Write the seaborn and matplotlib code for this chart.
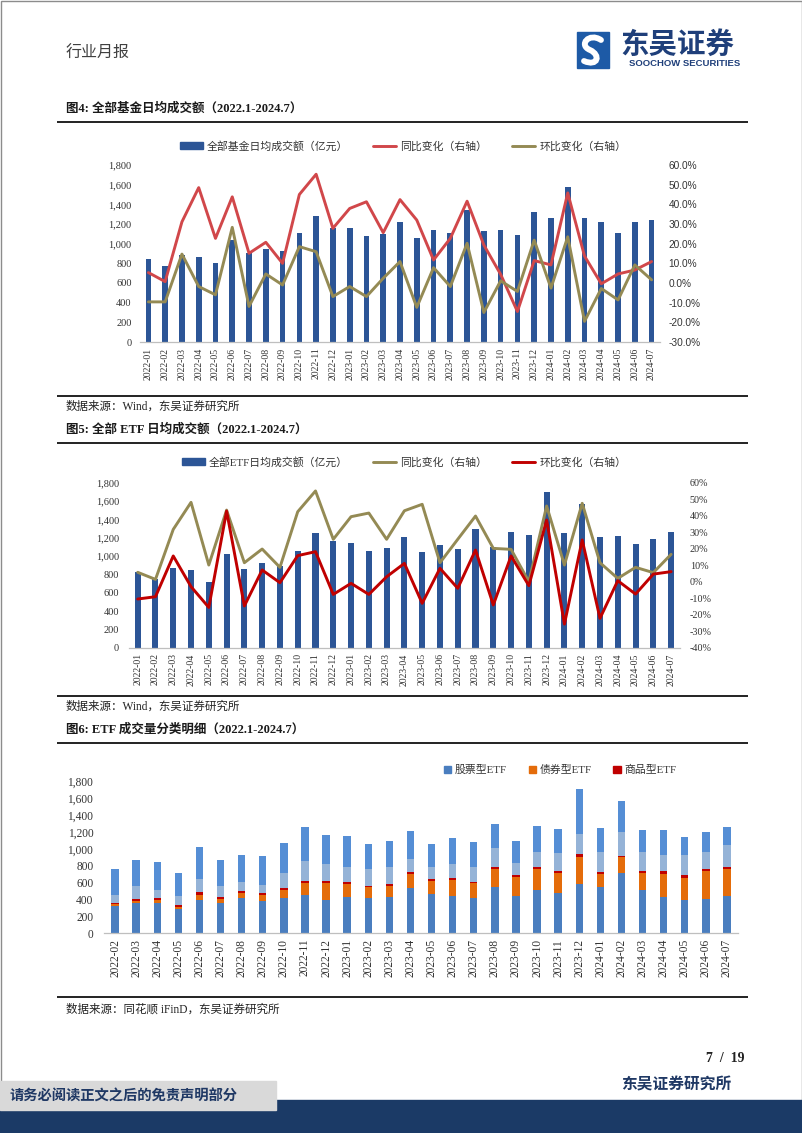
import numpy as np
import matplotlib
matplotlib.use("Agg")
import matplotlib.pyplot as plt
import seaborn as sns
from matplotlib.patches import Patch, Rectangle, PathPatch
from matplotlib.lines import Line2D
from matplotlib.path import Path
from matplotlib.ticker import FuncFormatter

# ---------------- data ----------------
months_all = ["2022-01", "2022-02", "2022-03", "2022-04", "2022-05", "2022-06", "2022-07",
              "2022-08", "2022-09", "2022-10", "2022-11", "2022-12", "2023-01", "2023-02",
              "2023-03", "2023-04", "2023-05", "2023-06", "2023-07", "2023-08", "2023-09",
              "2023-10", "2023-11", "2023-12", "2024-01", "2024-02", "2024-03", "2024-04",
              "2024-05", "2024-06", "2024-07"]

# Fig 4: all funds daily average turnover (100m CNY) and changes (%)
fund_amt = [840, 770, 880, 860, 800, 1035, 900, 945, 930, 1105, 1280, 1155, 1162, 1078, 1094,
            1222, 1060, 1141, 1108, 1341, 1131, 1138, 1084, 1317, 1266, 1574, 1256, 1219, 1108,
            1216, 1236]
fund_yoy = [5.3, 0.7, 31.1, 48.5, 22.7, 43.8, 15.1, 20.7, 10.0, 45.0, 55.3, 27.8, 37.9, 41.3,
            25.6, 42.4, 32.0, 11.7, 22.7, 41.6, 19.3, 4.4, -14.5, 11.4, 9.2, 45.8, 13.7, -0.4,
            4.6, 6.6, 10.9]
fund_mom = [-9.6, -9.6, 14.7, -1.8, -6.0, 28.3, -11.9, 4.6, -1.0, 18.5, 15.9, -6.9, -1.8, -6.9,
            2.4, 10.9, -12.4, 7.8, -1.8, 20.2, -15.0, 1.1, -4.3, 21.8, -2.6, 23.5, -19.5, -2.8,
            -8.6, 9.2, 1.6]

# Fig 5: all ETF daily average turnover and changes (%)
etf_amt = [825, 745, 865, 847, 713, 1018, 858, 920, 895, 1055, 1255, 1160, 1145, 1058, 1084,
           1211, 1044, 1124, 1080, 1291, 1100, 1265, 1229, 1702, 1247, 1570, 1211, 1218, 1131,
           1189, 1258]
etf_yoy = [5.7, 1.4, 31.7, 48.1, 10.1, 43.4, 11.5, 19.8, 8.7, 42.4, 55.0, 25.7, 39.4, 41.6,
           25.7, 43.0, 46.9, 11.5, 25.7, 39.8, 20.2, 19.6, 0.0, 45.9, 10.1, 47.5, 11.5, 2.0,
           8.7, 5.5, 16.6]
etf_mom = [-10.5, -9.1, 15.6, -3.0, -15.6, 42.8, -14.7, 7.1, -0.6, 15.8, 18.2, -7.7, -1.0, -7.7,
           3.0, 11.1, -13.1, 8.1, -4.0, 19.2, -14.1, 15.6, -2.4, 37.4, -25.7, 25.3, -22.2, 0.6,
           -7.5, 4.6, 6.1]

# Fig 6: ETF turnover breakdown (2022-02 .. 2024-07)
months_etf = months_all[1:]
etf_stock = [328, 356, 364, 285, 396, 364, 419, 388, 423, 455, 392, 435, 419, 435, 538, 463, 447,
             423, 546, 439, 518, 479, 589, 550, 720, 514, 435, 400, 407, 443]
etf_bond = [16, 32, 36, 31, 63, 47, 64, 67, 91, 138, 203, 150, 127, 127, 166, 158, 190, 174, 221,
            226, 245, 237, 321, 154, 186, 202, 265, 261, 337, 320]
etf_commodity = [20, 23, 23, 24, 28, 24, 19, 24, 20, 32, 26, 20, 20, 27, 24, 24, 16, 16, 20, 23,
                 24, 24, 27, 20, 16, 24, 36, 31, 23, 28]
etf_other_light = [91, 151, 91, 103, 154, 127, 103, 91, 178, 237, 205, 186, 193, 202, 158, 138,
                   166, 174, 226, 147, 178, 209, 238, 245, 284, 225, 198, 234, 194, 253]
etf_other_top = [304, 308, 333, 273, 384, 308, 321, 348, 360, 400, 344, 360, 301, 305, 328, 273,
                 312, 301, 288, 265, 313, 285, 538, 285, 360, 257, 296, 213, 238, 222]

# ---------------- style ----------------
sns.set_style("white")
SERIF_CJK = ['Liberation Serif', 'Noto Sans CJK SC', 'DejaVu Sans']
CJK = ['Noto Sans CJK SC', 'DejaVu Sans']
plt.rcParams['font.family'] = SERIF_CJK
plt.rcParams['axes.unicode_minus'] = False

W, H = 802, 1133
fig = plt.figure(figsize=(W / 100, H / 100), dpi=100)
fig.patch.set_facecolor('white')


def rect(l, t, r, b):
    return [l / W, 1 - b / H, (r - l) / W, (b - t) / H]


# page background elements in pixel coordinates
bg = fig.add_axes([0, 0, 1, 1])
bg.set_xlim(0, W)
bg.set_ylim(H, 0)
bg.axis('off')

bg.add_patch(Rectangle((0.5, 0.5), W - 1, H - 1, fill=False, edgecolor='#8c8c8c', lw=1))
bg.text(66, 53, "行业月报", fontsize=11.5, color='#404040', va='center', ha='left', family=CJK)

# logo
bg.add_patch(Rectangle((577, 32), 32, 36, color='#1d5aa6'))
verts = [(601, 40), (589, 32), (578, 45), (590, 50), (601, 55), (598, 67), (584, 61)]
codes = [Path.MOVETO, Path.CURVE4, Path.CURVE4, Path.CURVE4, Path.CURVE4, Path.CURVE4, Path.CURVE4]
bg.add_patch(PathPatch(Path(verts, codes), fill=False, edgecolor='white', lw=4.2, capstyle='round'))
bg.text(620, 45, "东吴证券", fontsize=20.5, color='#1f3f7a', va='center', ha='left',
        family=CJK, fontweight='bold')
bg.text(629, 64, "SOOCHOW SECURITIES", fontsize=6.8, color='#1f3f7a', va='center', ha='left',
        family=['Liberation Sans'], fontweight='bold')

# titles / separators / sources
for y in [122, 396, 443, 696, 743, 997]:
    bg.plot([57, 748], [y, y], color='#111111', lw=1.3, solid_capstyle='butt')

title_kw = dict(fontsize=9, fontweight='bold', color='#1a1a1a', va='center', ha='left')
bg.text(66, 109, "图4: 全部基金日均成交额（2022.1-2024.7）", **title_kw)
bg.text(66, 430, "图5: 全部 ETF 日均成交额（2022.1-2024.7）", **title_kw)
bg.text(66, 730, "图6: ETF 成交量分类明细（2022.1-2024.7）", **title_kw)

src_kw = dict(fontsize=8.3, color='#222222', va='center', ha='left')
bg.text(66, 407, "数据来源：Wind，东吴证券研究所", **src_kw)
bg.text(66, 707, "数据来源：Wind，东吴证券研究所", **src_kw)
bg.text(66, 1010, "数据来源：同花顺 iFinD，东吴证券研究所", **src_kw)

# footer
bg.text(745, 1058, "7  /  19", fontsize=10, fontweight='bold', color='#222222', ha='right',
        va='center', family=['Liberation Serif'])
bg.text(731, 1085, "东吴证券研究所", fontsize=11.3, fontweight='bold', color='#1f3864', ha='right',
        va='center', family=CJK)
bg.add_patch(Rectangle((0, 1100), W, 33, color='#1b3a66'))
bg.add_patch(Rectangle((0, 1081), 276, 29, color='#d9d9d9'))
bg.text(10, 1096, "请务必阅读正文之后的免责声明部分", fontsize=10.3, fontweight='bold',
        color='#1f3864', ha='left', va='center', family=CJK)

AXIS_GRAY = '#bfbfbf'
TICK_COLOR = '#333333'


def style_bottom(ax, n, tick_fs, ypad):
    for s in ['left', 'right', 'top']:
        ax.spines[s].set_visible(False)
    ax.spines['bottom'].set_color(AXIS_GRAY)
    ax.spines['bottom'].set_linewidth(0.9)
    ax.set_xticks(np.arange(-0.5, n, 1), minor=True)
    ax.tick_params(axis='x', which='major', length=0, labelsize=tick_fs, labelrotation=90,
                   pad=ypad, labelcolor=TICK_COLOR)
    ax.tick_params(axis='x', which='minor', length=3, color=AXIS_GRAY, width=0.8, direction='out')
    ax.set_xlim(-0.5, n - 0.5)
    ax.set_xlabel('')
    ax.set_ylabel('')
    ax.set_ylim(0, 1800)
    ax.set_yticks(np.arange(0, 1801, 200))
    ax.yaxis.set_major_formatter(FuncFormatter(lambda v, p: f"{v:,.0f}"))


def combo(px, cats, amt, s1, s2, c_bar, c1, c2, rlim, rfmt, rfamily, legend_labels, leg_xy,
          lpad, rpad, tick_fs):
    ax = fig.add_axes(rect(*px))
    ax.patch.set_alpha(0)
    n = len(cats)
    sns.barplot(x=cats, y=amt, color=c_bar, saturation=1, width=0.34, errorbar=None,
                linewidth=0, ax=ax)
    style_bottom(ax, n, tick_fs, 4)
    ax.tick_params(axis='y', length=0, labelsize=tick_fs + 0.5, pad=lpad, labelcolor=TICK_COLOR)

    axr = ax.twinx()
    axr.patch.set_alpha(0)
    idx = np.arange(n)
    sns.lineplot(x=idx, y=s1, color=c1, linewidth=2.1, ax=axr)
    sns.lineplot(x=idx, y=s2, color=c2, linewidth=2.1, ax=axr)
    for s in axr.spines.values():
        s.set_visible(False)
    axr.set_ylim(*rlim)
    axr.set_yticks(np.arange(rlim[0], rlim[1] + 1, 10))
    axr.yaxis.set_major_formatter(FuncFormatter(rfmt))
    axr.tick_params(axis='y', length=0, labelsize=tick_fs + 0.3, pad=rpad, labelcolor=TICK_COLOR,
                    labelfontfamily=rfamily)
    axr.set_ylabel('')
    ax.set_xlim(-0.5, n - 0.5)

    handles = [Patch(color=c_bar), Line2D([], [], color=c1, lw=2.1), Line2D([], [], color=c2, lw=2.1)]
    fig.legend(handles, legend_labels, loc='center',
               bbox_to_anchor=(leg_xy[0] / W, 1 - leg_xy[1] / H), ncol=3, frameon=False,
               fontsize=7.8, handlelength=2.1, handleheight=0.6, columnspacing=2.3,
               handletextpad=0.4, labelcolor='#333333')
    return ax, axr


BAR_BLUE = '#2c5596'
RED1 = '#d1474a'
OLIVE = '#948a54'
RED2 = '#c00000'

# Fig 4
combo((140, 165, 660, 342), months_all, fund_amt, fund_yoy, fund_mom, BAR_BLUE, RED1, OLIVE,
      (-30, 60), lambda v, p: f"{v:.1f}%", 'Liberation Sans',
      ["全部基金日均成交额（亿元）", "同比变化（右轴）", "环比变化（右轴）"], (403, 146),
      6, 6, 7)

# Fig 5
combo((128.8, 482.7, 680, 647.7), months_all, etf_amt, etf_yoy, etf_mom, BAR_BLUE, OLIVE, RED2,
      (-40, 60), lambda v, p: f"{v:.0f}%", 'Liberation Serif',
      ["全部ETF日均成交额（亿元）", "同比变化（右轴）", "环比变化（右轴）"], (404, 462),
      7, 7, 7)

# Fig 6 stacked
ax3 = fig.add_axes(rect(104.5, 781.7, 737.5, 933.3))
ax3.patch.set_alpha(0)
layers = np.array([etf_stock, etf_bond, etf_commodity, etf_other_light, etf_other_top])
layer_colors = ['#4a7ebf', '#e46c0a', '#c00000', '#95b3d7', '#558ed5']
cum = np.cumsum(layers, axis=0)
for k in range(len(layers) - 1, -1, -1):
    sns.barplot(x=months_etf, y=cum[k], color=layer_colors[k], saturation=1, width=0.35,
                errorbar=None, linewidth=0, ax=ax3)
style_bottom(ax3, len(months_etf), 8.3, 4)
ax3.tick_params(axis='y', length=0, labelsize=8.3, pad=8, labelcolor=TICK_COLOR)

h3 = [Patch(color=layer_colors[0]), Patch(color=layer_colors[1]), Patch(color=layer_colors[2])]
fig.legend(h3, ["股票型ETF", "债券型ETF", "商品型ETF"], loc='center',
           bbox_to_anchor=(560 / W, 1 - 770 / H), ncol=3, frameon=False, fontsize=7.8,
           handlelength=0.7, handleheight=0.7, handletextpad=0.3, columnspacing=2.0,
           labelcolor='#333333')

fig.savefig("out.png", dpi=100)
